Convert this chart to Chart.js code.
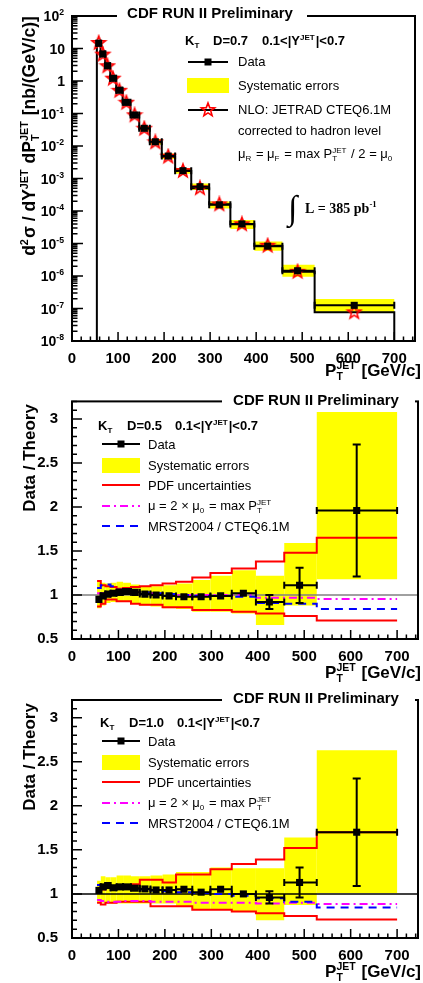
<!DOCTYPE html>
<html>
<head>
<meta charset="utf-8">
<script src="https://cdn.jsdelivr.net/npm/chart.js@4.4.0/dist/chart.umd.min.js"></script>
<style>
html, body { margin: 0; padding: 0; background: #fff; }
#wrap { position: relative; width: 423px; height: 983px; }
canvas { position: absolute; left: 0; }
</style>
</head>
<body>
<div id="wrap">
  <canvas id="c1" width="423" height="380" style="top:0px"></canvas>
  <canvas id="c2" width="423" height="305" style="top:380px"></canvas>
  <canvas id="c3" width="423" height="298" style="top:685px"></canvas>
</div>
<script>
// pT bins (GeV/c) and mean pT of each bin
const binEdges = [54, 62, 72, 83, 96, 110, 127, 146, 169, 195, 224, 259, 298, 344, 396, 457, 527, 700];
const binCenters = [58, 67, 77, 89, 103, 118, 136, 157, 181, 209, 241, 278, 320, 369, 425, 490, 613];
const xTickValues = [0, 100, 200, 300, 400, 500, 600, 700];

// top panel: D=0.7 cross section, nb/(GeV/c)
const xsData  = [14.5, 6.8, 2.95, 1.21, 0.52, 0.22, 0.09, 0.035, 0.0135, 0.0049, 1.74e-3, 5.6e-4, 1.55e-4, 4.0e-5, 8.3e-6, 1.45e-6, 1.25e-7];
const xsStat  = [0.1, 0.04, 0.015, 0.006, 0.003, 0.0012, 0.0005, 0.0002, 1e-4, 4e-5, 2e-5, 1e-5, 3e-6, 1e-6, 3e-7, 1e-7, 2.4e-8];
const xsSysHi = [16.5, 7.7, 3.35, 1.38, 0.60, 0.255, 0.105, 0.041, 0.016, 0.0059, 2.1e-3, 7.0e-4, 1.95e-4, 5.3e-5, 1.15e-5, 2.2e-6, 1.95e-7];
const xsSysLo = [12.6, 5.9, 2.55, 1.04, 0.44, 0.185, 0.075, 0.029, 0.011, 0.0040, 1.4e-3, 4.4e-4, 1.2e-4, 2.8e-5, 6.0e-6, 9.5e-7, 8.0e-8];
const xsNlo   = [14.8, 6.5, 2.85, 1.18, 0.50, 0.215, 0.088, 0.034, 0.013, 0.0047, 1.7e-3, 5.0e-4, 1.6e-4, 3.9e-5, 8.5e-6, 1.35e-6, 7.6e-8];

// middle panel: D=0.5 data / theory
const r05Data  = [0.95, 0.99, 1.01, 1.02, 1.03, 1.04, 1.03, 1.01, 1.00, 0.99, 0.98, 0.98, 0.99, 1.02, 0.92, 1.11, 1.96];
const r05Stat  = [0.01, 0.01, 0.01, 0.01, 0.01, 0.01, 0.01, 0.01, 0.01, 0.01, 0.01, 0.01, 0.01, 0.02, 0.08, 0.20, 0.75];
const r05SysHi = [1.15, 1.14, 1.13, 1.14, 1.15, 1.14, 1.12, 1.10, 1.10, 1.11, 1.13, 1.17, 1.22, 1.28, 1.22, 1.59, 3.08];
const r05SysLo = [0.85, 0.88, 0.91, 0.92, 0.92, 0.92, 0.90, 0.88, 0.87, 0.85, 0.84, 0.81, 0.81, 0.79, 0.66, 0.88, 1.18];
const r05PdfHi = [1.16, 1.11, 1.10, 1.09, 1.07, 1.08, 1.09, 1.10, 1.11, 1.13, 1.15, 1.20, 1.25, 1.30, 1.38, 1.48, 1.65];
const r05PdfLo = [0.87, 0.90, 0.95, 0.95, 0.93, 0.93, 0.90, 0.89, 0.89, 0.86, 0.86, 0.83, 0.83, 0.81, 0.79, 0.76, 0.71];
const r05Scale = [1.02, 1.02, 1.03, 1.03, 1.03, 1.03, 1.03, 1.02, 1.02, 1.01, 1.00, 1.00, 1.00, 1.00, 0.97, 0.97, 0.955];
const r05Mrst  = [1.08, 1.11, 1.12, 1.10, 1.06, 1.05, 1.04, 1.03, 1.02, 1.01, 1.00, 0.99, 0.99, 0.98, 0.91, 0.90, 0.84];

// bottom panel: D=1.0 data / theory
const r10Data  = [1.04, 1.08, 1.095, 1.07, 1.08, 1.08, 1.065, 1.057, 1.045, 1.045, 1.053, 1.02, 1.053, 1.00, 0.96, 1.13, 1.70];
const r10Stat  = [0.01, 0.01, 0.01, 0.01, 0.01, 0.01, 0.01, 0.01, 0.01, 0.01, 0.01, 0.01, 0.01, 0.02, 0.07, 0.17, 0.61];
const r10SysHi = [1.15, 1.20, 1.19, 1.19, 1.21, 1.21, 1.20, 1.20, 1.21, 1.22, 1.25, 1.25, 1.30, 1.29, 1.29, 1.64, 2.63];
const r10SysLo = [0.90, 0.90, 0.90, 0.89, 0.89, 0.89, 0.89, 0.89, 0.89, 0.89, 0.86, 0.82, 0.82, 0.80, 0.70, 0.875, 1.01];
const r10PdfHi = [1.10, 1.05, 1.07, 1.07, 1.08, 1.10, 1.11, 1.16, 1.16, 1.13, 1.22, 1.22, 1.28, 1.34, 1.39, 1.52, 1.70];
const r10PdfLo = [0.90, 0.88, 0.90, 0.90, 0.91, 0.91, 0.91, 0.91, 0.86, 0.86, 0.86, 0.82, 0.82, 0.80, 0.78, 0.75, 0.71];
const r10Scale = [0.93, 0.92, 0.91, 0.91, 0.91, 0.92, 0.92, 0.92, 0.91, 0.91, 0.91, 0.90, 0.90, 0.90, 0.89, 0.90, 0.885];
const r10Mrst  = [1.10, 1.09, 1.09, 1.08, 1.07, 1.06, 1.06, 1.05, 1.04, 1.03, 1.02, 1.01, 1.00, 0.98, 0.95, 0.91, 0.845];

const X_MAX = 745;
const LOG_MIN = 1e-8, LOG_MAX = 100;
const RATIO_MIN = 0.5, RATIO_MAX = 3.2;
const ratioTickValues = [0.5, 1, 1.5, 2, 2.5, 3];

const SANS = '"Liberation Sans", Arial, Helvetica, sans-serif';
const SERIF = '"Liberation Serif", "Times New Roman", serif';
const YELLOW = '#ffff00';

// step histogram points from per-bin values
function histPoints(values) {
    const pts = [];
    values.forEach((v, i) => {
        pts.push({ x: binEdges[i], y: v }, { x: binEdges[i + 1], y: v });
    });
    return pts;
}

// one closed rectangle per bin, separated by gaps
function boxPoints(lo, hi) {
    const pts = [];
    lo.forEach((l, i) => {
        const a = binEdges[i], b = binEdges[i + 1];
        pts.push({ x: a, y: hi[i] }, { x: b, y: hi[i] }, { x: b, y: l }, { x: a, y: l }, { x: a, y: hi[i] }, { x: a, y: null });
    });
    return pts;
}

function pointsOf(values) {
    return binCenters.map((x, i) => ({ x: x, y: values[i] }));
}

function makeStar(r) {
    const c = document.createElement('canvas');
    const s = Math.ceil(r * 2 + 4);
    c.width = s;
    c.height = s;
    const g = c.getContext('2d');
    g.beginPath();
    for (let i = 0; i < 10; i++) {
        const ang = -Math.PI / 2 + i * Math.PI / 5;
        const rr = i % 2 ? r * 0.42 : r;
        g.lineTo(s / 2 + rr * Math.cos(ang), s / 2 + rr * Math.sin(ang));
    }
    g.closePath();
    g.lineWidth = 1.6;
    g.strokeStyle = '#ff0000';
    g.stroke();
    return c;
}
const starImg = makeStar(7);

// text with sub/superscripts: strings, or {sub, sup}
function drawRich(ctx, segs, x, y, size, weight, align, fam) {
    fam = fam || SANS;
    weight = weight || 'normal';
    const small = size * 0.62;
    const parts = segs.map(s => {
        if (typeof s === 'string') {
            ctx.font = weight + ' ' + size + 'px ' + fam;
            return { s: s, w: ctx.measureText(s).width };
        }
        ctx.font = weight + ' ' + small + 'px ' + fam;
        const w = Math.max(s.sub ? ctx.measureText(s.sub).width : 0, s.sup ? ctx.measureText(s.sup).width : 0);
        return { s: s, w: w + 1 };
    });
    const total = parts.reduce((t, p) => t + p.w, 0);
    let cx = align === 'center' ? x - total / 2 : align === 'right' ? x - total : x;
    ctx.textAlign = 'left';
    ctx.textBaseline = 'alphabetic';
    for (const p of parts) {
        if (typeof p.s === 'string') {
            ctx.font = weight + ' ' + size + 'px ' + fam;
            ctx.fillText(p.s, cx, y);
        } else {
            ctx.font = weight + ' ' + small + 'px ' + fam;
            if (p.s.sup) ctx.fillText(p.s.sup, cx, y - size * 0.42);
            if (p.s.sub) ctx.fillText(p.s.sub, cx, y + size * 0.25);
        }
        cx += p.w;
    }
}

function drawErrBars(chart, eb) {
    const ctx = chart.ctx, a = chart.chartArea;
    const xs = chart.scales.x, ys = chart.scales.y;
    ctx.save();
    ctx.beginPath();
    ctx.rect(a.left, a.top, a.right - a.left, a.bottom - a.top);
    ctx.clip();
    ctx.strokeStyle = '#000';
    ctx.lineWidth = 2;
    eb.ys.forEach((v, i) => {
        const px = xs.getPixelForValue(binCenters[i]);
        const py = ys.getPixelForValue(v);
        const x0 = xs.getPixelForValue(binEdges[i]);
        const x1 = xs.getPixelForValue(binEdges[i + 1]);
        const yt = ys.getPixelForValue(v + eb.err[i]);
        const yb = ys.getPixelForValue(v - eb.err[i]);
        ctx.beginPath();
        ctx.moveTo(x0, py); ctx.lineTo(x1, py);
        ctx.moveTo(x0, py - 3.5); ctx.lineTo(x0, py + 3.5);
        ctx.moveTo(x1, py - 3.5); ctx.lineTo(x1, py + 3.5);
        if (py - yt > 4) {
            ctx.moveTo(px, py); ctx.lineTo(px, yt);
            ctx.moveTo(px - 4, yt); ctx.lineTo(px + 4, yt);
        }
        if (yb - py > 4) {
            ctx.moveTo(px, py); ctx.lineTo(px, yb);
            ctx.moveTo(px - 4, yb); ctx.lineTo(px + 4, yb);
        }
        ctx.stroke();
    });
    ctx.restore();
}

// frame, inward ticks, titles and legend
function makeDecor(cfg) {
    return {
        id: 'decor' + cfg.name,
        beforeDatasetDraw(chart, args) {
            const ds = chart.data.datasets[args.index];
            if (ds.errBars) drawErrBars(chart, ds.errBars);
        },
        afterDraw(chart) {
            const ctx = chart.ctx, a = chart.chartArea;
            const xs = chart.scales.x, ys = chart.scales.y;
            ctx.save();
            ctx.strokeStyle = '#000';
            ctx.fillStyle = '#000';
            ctx.lineWidth = 1.5;
            ctx.beginPath();
            for (let v = 0; v <= xs.max; v += 20) {
                const px = xs.getPixelForValue(v);
                const len = v % 100 === 0 ? 9 : 4.5;
                ctx.moveTo(px, a.bottom); ctx.lineTo(px, a.bottom - len);
            }
            if (cfg.log) {
                for (let e = -8; e <= 2; e++) {
                    for (let k = 1; k <= 9; k++) {
                        const v = k * Math.pow(10, e);
                        if (v > ys.max * 1.0001) break;
                        const py = ys.getPixelForValue(v);
                        ctx.moveTo(a.left, py); ctx.lineTo(a.left + (k === 1 ? 11 : 5.5), py);
                    }
                }
            } else {
                for (let i = 0; ; i++) {
                    const v = ys.min + i * 0.1;
                    if (v > ys.max + 1e-6) break;
                    const py = ys.getPixelForValue(v);
                    const major = Math.abs(v * 2 - Math.round(v * 2)) < 1e-6;
                    ctx.moveTo(a.left, py); ctx.lineTo(a.left + (major ? 10 : 5), py);
                }
            }
            ctx.stroke();

            ctx.lineWidth = 2;
            ctx.strokeRect(a.left, a.top, a.right - a.left, a.bottom - a.top);

            // log labels 10^n
            if (cfg.log) {
                for (let e = -8; e <= 2; e++) {
                    const py = ys.getPixelForValue(Math.pow(10, e));
                    const segs = e === 0 ? ['1'] : e === 1 ? ['10'] : ['10', { sup: String(e) }];
                    drawRich(ctx, segs, a.left - 7, py + 5, 14, 'bold', 'right');
                }
            }

            // title box over the frame
            ctx.fillStyle = '#fff';
            ctx.fillRect(cfg.gap[0], a.top - 3, cfg.gap[1] - cfg.gap[0], 6);
            ctx.fillStyle = '#000';
            drawRich(ctx, ['CDF RUN II Preliminary'], cfg.titleX, cfg.titleY, 15, 'bold', 'center');

            // y title
            ctx.save();
            ctx.translate(35, cfg.yTitleY);
            ctx.rotate(-Math.PI / 2);
            drawRich(ctx, cfg.yTitle, 0, 0, cfg.yTitleSize, 'bold', 'center');
            ctx.restore();

            // x title
            drawRich(ctx, ['P', { sub: 'T', sup: 'JET' }, ' [GeV/c]'], 421, cfg.xTitleY, 17, 'bold', 'right');

            cfg.legend(ctx);
            ctx.restore();
        }
    };
}

function sampleLine(ctx, x0, x1, y, color, dash) {
    ctx.save();
    ctx.strokeStyle = color;
    ctx.lineWidth = 2;
    ctx.setLineDash(dash || []);
    ctx.beginPath();
    ctx.moveTo(x0, y); ctx.lineTo(x1, y);
    ctx.stroke();
    ctx.restore();
}

function legendTop(ctx) {
    ctx.fillStyle = '#000';
    drawRich(ctx, ['K', { sub: 'T' }], 185, 45, 13, 'bold');
    drawRich(ctx, ['D=0.7'], 213, 45, 13, 'bold');
    drawRich(ctx, ['0.1<|Y', { sup: 'JET' }, '|<0.7'], 262, 45, 13, 'bold');
    sampleLine(ctx, 188, 228, 62, '#000');
    ctx.fillStyle = '#000';
    ctx.fillRect(204.5, 58.5, 7, 7);
    drawRich(ctx, ['Data'], 238, 66, 13);
    ctx.fillStyle = YELLOW;
    ctx.fillRect(187, 78, 42, 15);
    ctx.fillStyle = '#000';
    drawRich(ctx, ['Systematic errors'], 238, 90, 13);
    sampleLine(ctx, 188, 228, 110, '#000');
    ctx.drawImage(starImg, 208 - starImg.width / 2, 110 - starImg.height / 2);
    ctx.fillStyle = '#000';
    drawRich(ctx, ['NLO: JETRAD CTEQ6.1M'], 238, 114, 13);
    drawRich(ctx, ['corrected to hadron level'], 238, 135, 13);
    drawRich(ctx, ['\u03bc', { sub: 'R' }, ' = \u03bc', { sub: 'F' }, ' = max P', { sub: 'T', sup: 'JET' }, ' / 2 = \u03bc', { sub: '0' }], 238, 158, 13);
    drawRich(ctx, ['\u222b'], 288, 219, 34, 'normal', 'left', SERIF);
    drawRich(ctx, ['L = 385 pb', { sup: '-1' }], 305, 213, 14, 'bold', 'left', SERIF);
}

function ratioLegend(label, top, x0) {
    return function (ctx) {
        ctx.fillStyle = '#000';
        drawRich(ctx, ['K', { sub: 'T' }], x0, top, 13, 'bold');
        drawRich(ctx, [label], x0 + 29, top, 13, 'bold');
        drawRich(ctx, ['0.1<|Y', { sup: 'JET' }, '|<0.7'], x0 + 77, top, 13, 'bold');
        const y = top + 14;
        sampleLine(ctx, 102, 140, y, '#000');
        ctx.fillStyle = '#000';
        ctx.fillRect(117.5, y - 3.5, 7, 7);
        drawRich(ctx, ['Data'], 148, y + 5, 13);
        ctx.fillStyle = YELLOW;
        ctx.fillRect(102, y + 14, 38, 15);
        ctx.fillStyle = '#000';
        drawRich(ctx, ['Systematic errors'], 148, y + 26, 13);
        sampleLine(ctx, 102, 140, y + 41, '#ff0000');
        ctx.fillStyle = '#000';
        drawRich(ctx, ['PDF uncertainties'], 148, y + 46, 13);
        sampleLine(ctx, 102, 140, y + 62, '#ff00ff', [8, 4, 2, 4]);
        ctx.fillStyle = '#000';
        drawRich(ctx, ['\u03bc = 2 \u00d7 \u03bc', { sub: '0' }, ' = max P', { sub: 'T', sup: 'JET' }], 148, y + 66, 13);
        sampleLine(ctx, 102, 140, y + 82, '#0000ff', [8, 6]);
        ctx.fillStyle = '#000';
        drawRich(ctx, ['MRST2004 / CTEQ6.1M'], 148, y + 87, 13);
    };
}

const xScale = {
    type: 'linear', min: 0, max: X_MAX,
    grid: { display: false }, border: { display: false },
    afterBuildTicks: s => { s.ticks = xTickValues.map(v => ({ value: v })); },
    ticks: {
        autoSkip: false, maxRotation: 0, padding: 1, color: '#000',
        font: { family: SANS, size: 15, weight: 'bold' },
        callback: v => String(v)
    }
};

// ---- top chart ----
new Chart(document.getElementById('c1'), {
    type: 'line',
    data: {
        datasets: [
            { label: 'Data', data: pointsOf(xsData), showLine: false, pointStyle: 'rect', pointRadius: 5,
              pointBackgroundColor: '#000', pointBorderWidth: 0, order: 0,
              errBars: { ys: xsData, err: xsStat } },
            { label: 'NLO points', data: pointsOf(xsNlo), showLine: false, pointStyle: starImg, pointRadius: 7, order: 1 },
            { label: 'NLO', data: [{ x: binEdges[0], y: LOG_MIN }].concat(histPoints(xsNlo), [{ x: binEdges[binEdges.length - 1], y: LOG_MIN }]),
              borderColor: '#000', borderWidth: 2, pointRadius: 0, fill: false, order: 2 },
            { label: 'Systematic errors', data: boxPoints(xsSysLo, xsSysHi), borderColor: 'rgba(0,0,0,0)', borderWidth: 0,
              backgroundColor: YELLOW, fill: 'shape', pointRadius: 0, spanGaps: false, order: 3 }
        ]
    },
    options: {
        responsive: false, animation: false, devicePixelRatio: 1, events: [],
        layout: { padding: { left: 0, right: 3, top: 16, bottom: 0 } },
        plugins: { legend: { display: false }, tooltip: { enabled: false } },
        scales: {
            x: Object.assign({}, xScale, { afterFit: s => { s.height = 39; } }),
            y: { type: 'logarithmic', min: LOG_MIN, max: LOG_MAX,
                 grid: { display: false }, border: { display: false }, ticks: { display: false },
                 afterFit: s => { s.width = 72; } }
        }
    },
    plugins: [makeDecor({
        name: 'top', log: true, gap: [117, 307], titleX: 210, titleY: 18,
        yTitle: ['d', { sup: '2' }, '\u03c3 / dY', { sup: 'JET' }, ' dP', { sub: 'T', sup: 'JET' }, ' [nb/(GeV/c)]'],
        yTitleY: 136, yTitleSize: 17.5, xTitleY: 376, legend: legendTop
    })]
});

function ratioChart(id, opt) {
    new Chart(document.getElementById(id), {
        type: 'line',
        data: {
            datasets: [
                { label: 'Data', data: pointsOf(opt.data), showLine: false, pointStyle: 'rect', pointRadius: 5,
                  pointBackgroundColor: '#000', pointBorderWidth: 0, order: 0,
                  errBars: { ys: opt.data, err: opt.stat } },
                { label: 'MRST2004 / CTEQ6.1M', data: histPoints(opt.mrst), borderColor: '#0000ff', borderWidth: 2,
                  borderDash: [8, 6], pointRadius: 0, fill: false, order: 1 },
                { label: 'mu', data: histPoints(opt.scale), borderColor: '#ff00ff', borderWidth: 2,
                  borderDash: [8, 4, 2, 4], pointRadius: 0, fill: false, order: 2 },
                { label: 'PDF up', data: histPoints(opt.pdfHi), borderColor: '#ff0000', borderWidth: 2, pointRadius: 0, fill: false, order: 3 },
                { label: 'PDF down', data: histPoints(opt.pdfLo), borderColor: '#ff0000', borderWidth: 2, pointRadius: 0, fill: false, order: 4 },
                { label: 'one', data: [{ x: 0, y: 1 }, { x: X_MAX, y: 1 }], borderColor: opt.oneColor, borderWidth: 1.5,
                  pointRadius: 0, fill: false, order: 5 },
                { label: 'Systematic errors', data: boxPoints(opt.sysLo, opt.sysHi), borderColor: 'rgba(0,0,0,0)', borderWidth: 0,
                  backgroundColor: YELLOW, fill: 'shape', pointRadius: 0, spanGaps: false, order: 6 }
            ]
        },
        options: {
            responsive: false, animation: false, devicePixelRatio: 1, events: [],
            layout: { padding: { left: 0, right: 3, top: opt.top, bottom: 0 } },
            plugins: { legend: { display: false }, tooltip: { enabled: false } },
            scales: {
                x: Object.assign({}, xScale, { afterFit: s => { s.height = opt.xAxisH; } }),
                y: { type: 'linear', min: RATIO_MIN, max: RATIO_MAX,
                     grid: { display: false }, border: { display: false },
                     afterBuildTicks: s => { s.ticks = ratioTickValues.map(v => ({ value: v })); },
                     ticks: { autoSkip: false, padding: 6, color: '#000',
                              font: { family: SANS, size: 15, weight: 'bold' },
                              callback: v => String(v) },
                     afterFit: s => { s.width = 72; } }
            }
        },
        plugins: [makeDecor({
            name: id, log: false, gap: [222, 415], titleX: 316, titleY: opt.titleY,
            yTitle: ['Data / Theory'], yTitleY: opt.yTitleY, yTitleSize: 17, xTitleY: opt.xTitleY,
            legend: ratioLegend(opt.label, opt.legendTop, opt.legendX)
        })]
    });
}

ratioChart('c2', {
    data: r05Data, stat: r05Stat, sysHi: r05SysHi, sysLo: r05SysLo, pdfHi: r05PdfHi, pdfLo: r05PdfLo,
    scale: r05Scale, mrst: r05Mrst, oneColor: '#808080', top: 21.4, xAxisH: 46,
    titleY: 25, yTitleY: 78, xTitleY: 298, label: 'D=0.5', legendTop: 50, legendX: 98
});

ratioChart('c3', {
    data: r10Data, stat: r10Stat, sysHi: r10SysHi, sysLo: r10SysLo, pdfHi: r10PdfHi, pdfLo: r10PdfLo,
    scale: r10Scale, mrst: r10Mrst, oneColor: '#000', top: 15, xAxisH: 45,
    titleY: 18, yTitleY: 72, xTitleY: 292, label: 'D=1.0', legendTop: 42, legendX: 100
});
</script>
</body>
</html>
